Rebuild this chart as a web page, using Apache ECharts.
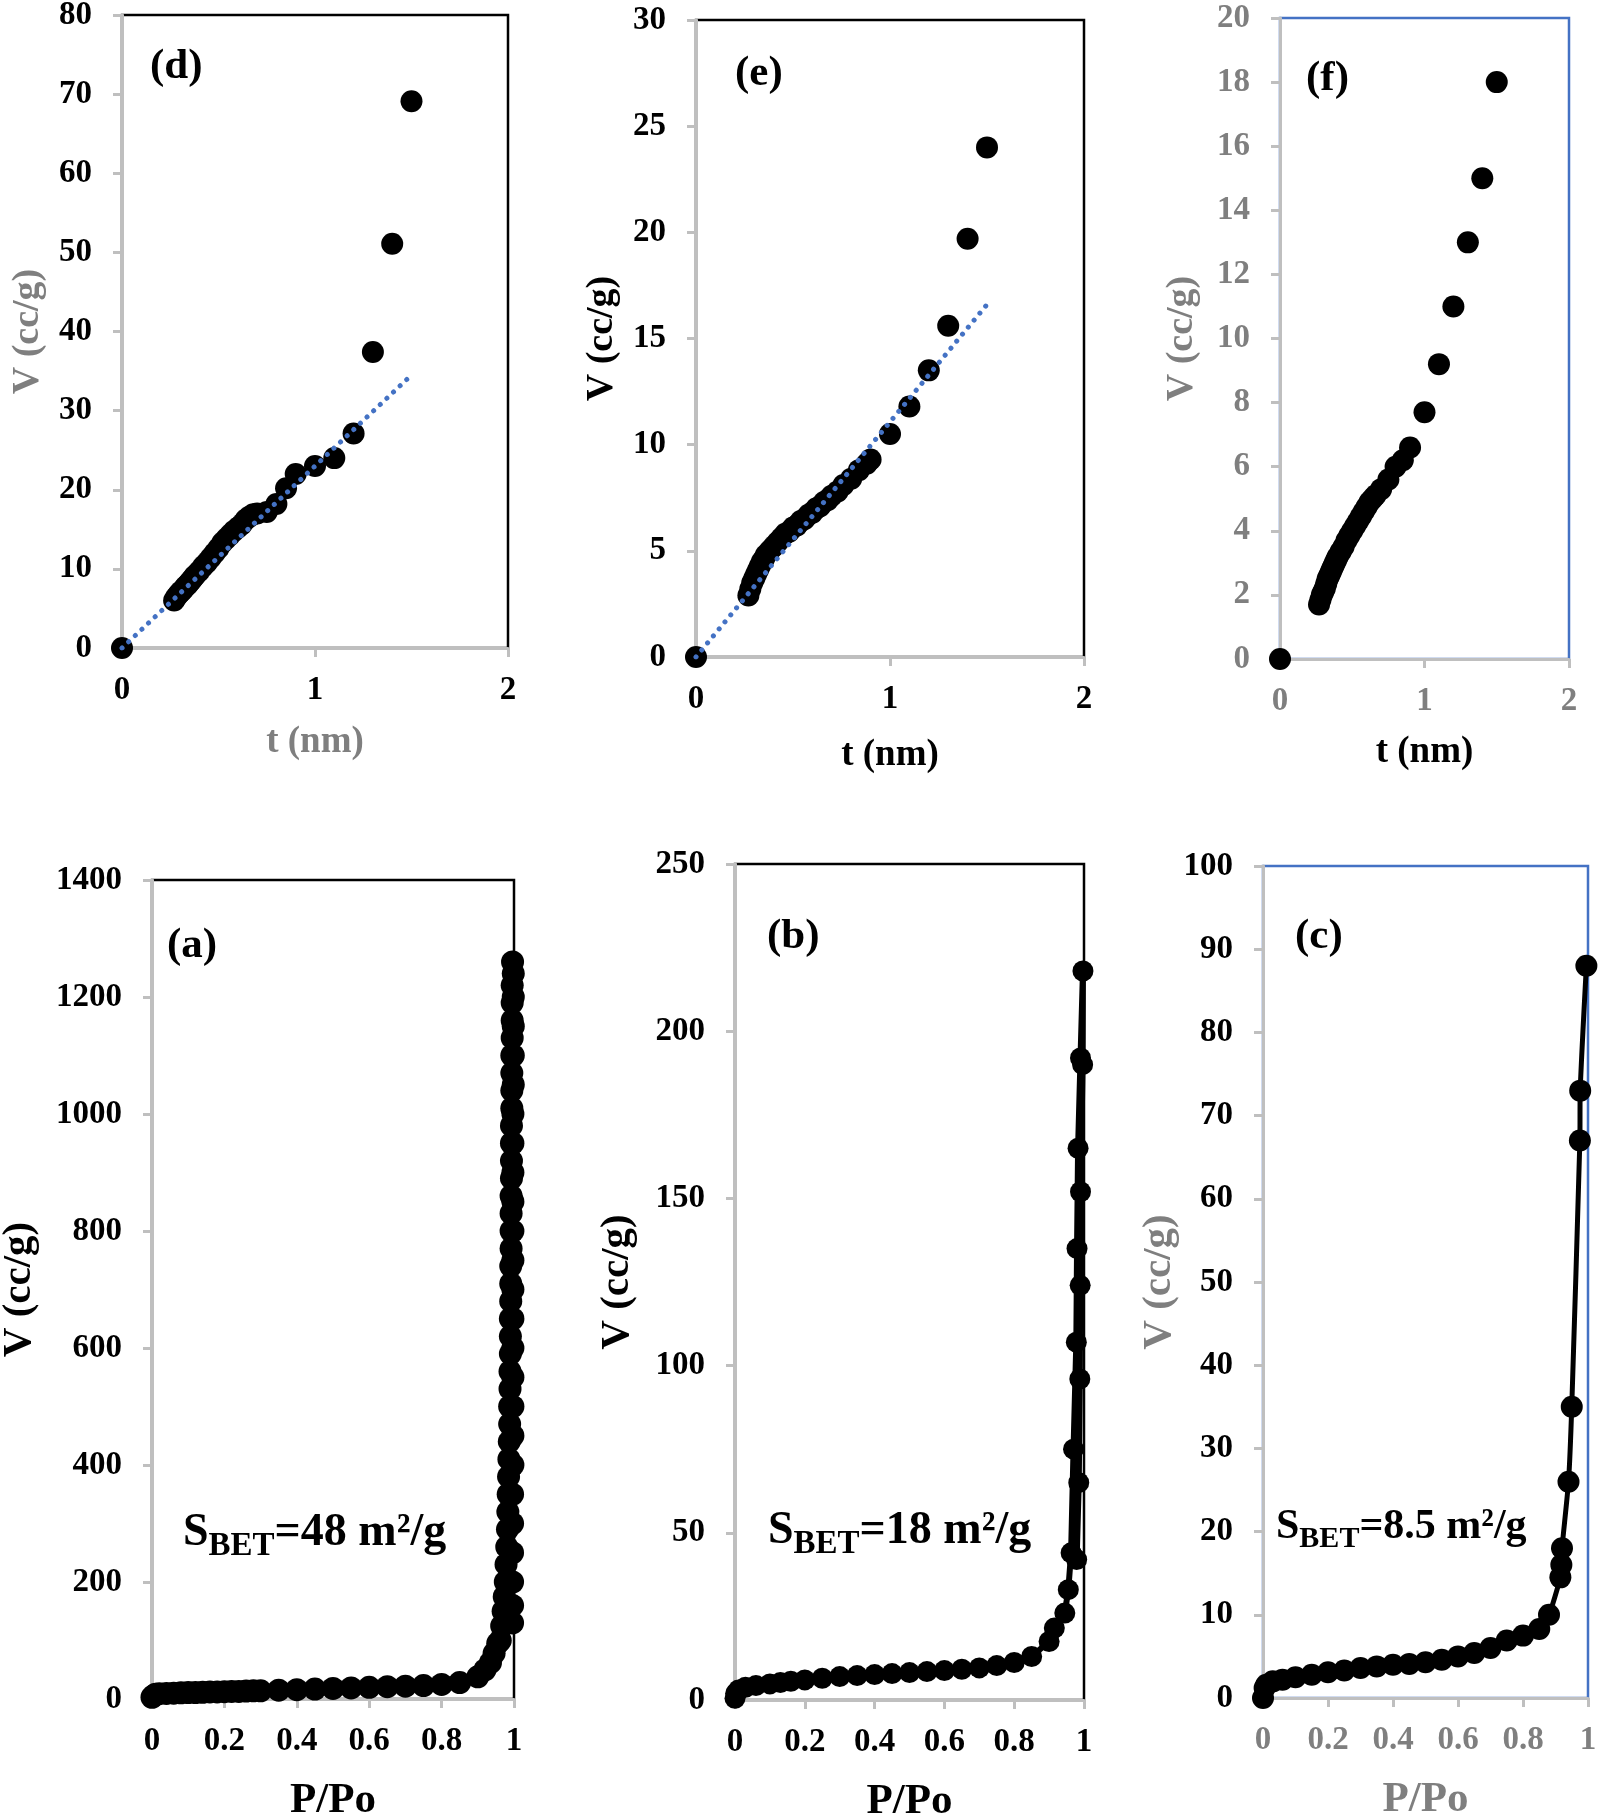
<!DOCTYPE html>
<html>
<head>
<meta charset="utf-8">
<script src="https://cdn.jsdelivr.net/npm/echarts@6/dist/echarts.min.js"></script>
<style>
html, body { margin: 0; padding: 0; background: #ffffff; }
#main { width: 1600px; height: 1820px; }
</style>
</head>
<body>
<div id="main"></div>
<script>
var myChart = echarts.init(document.getElementById('main'));

// (d) t-plot
var tD = [0, 0.27, 0.28, 0.29, 0.30, 0.31, 0.32, 0.33, 0.34, 0.35, 0.36, 0.37, 0.38, 0.40, 0.42, 0.44, 0.46, 0.48, 0.50,
    0.52, 0.54, 0.56, 0.58, 0.60, 0.62, 0.64, 0.66, 0.68, 0.70, 0.75, 0.80, 0.85, 0.90, 1.0, 1.1, 1.2, 1.3, 1.4, 1.5];
var vD = [0, 6.0, 6.4, 6.7, 7.0, 7.2, 7.5, 7.8, 8.0, 8.3, 8.6, 8.9, 9.2, 9.7, 10.3, 10.8, 11.4, 12.0, 12.6,
    13.3, 13.8, 14.3, 14.8, 15.2, 15.6, 16.2, 16.6, 16.9, 17.0, 17.2, 18.2, 20.2, 22.0, 23.0, 24.0, 27.1, 37.4, 51.1, 69.1];
var fitTD = [0, 1.5];
var fitVD = [0, 34.5];

// (e) t-plot
var tE = [0, 0.27, 0.28, 0.29, 0.30, 0.31, 0.32, 0.33, 0.34, 0.35, 0.36, 0.38, 0.40, 0.42, 0.44, 0.46, 0.48, 0.50,
    0.52, 0.54, 0.56, 0.58, 0.60, 0.62, 0.64, 0.66, 0.68, 0.70, 0.73, 0.76, 0.80, 0.84, 0.88, 0.90, 1.0, 1.1, 1.2, 1.3, 1.4, 1.5];
var vE = [0, 2.9, 3.2, 3.5, 3.7, 3.9, 4.1, 4.3, 4.5, 4.6, 4.8, 5.0, 5.2, 5.4, 5.6, 5.8, 5.9, 6.1,
    6.2, 6.4, 6.5, 6.7, 6.8, 7.0, 7.1, 7.3, 7.4, 7.6, 7.8, 8.1, 8.4, 8.8, 9.1, 9.3, 10.5, 11.8, 13.5, 15.6, 19.7, 24.0];
var fitTE = [0, 1.5];
var fitVE = [0, 16.6];

// (f) t-plot
var tF = [0, 0.27, 0.28, 0.29, 0.30, 0.31, 0.32, 0.33, 0.34, 0.35, 0.36, 0.37, 0.38, 0.39, 0.40, 0.42, 0.44, 0.46, 0.48, 0.50,
    0.52, 0.54, 0.56, 0.58, 0.60, 0.62, 0.64, 0.66, 0.70, 0.75, 0.80, 0.85, 0.90, 1.0, 1.1, 1.2, 1.3, 1.4, 1.5];
var vF = [0, 1.7, 1.85, 2.0, 2.1, 2.2, 2.35, 2.5, 2.6, 2.7, 2.8, 2.9, 3.0, 3.1, 3.2, 3.35, 3.5, 3.7, 3.85, 4.0,
    4.15, 4.3, 4.45, 4.6, 4.75, 4.9, 5.0, 5.1, 5.3, 5.6, 6.0, 6.2, 6.6, 7.7, 9.2, 11.0, 13.0, 15.0, 18.0];

// (a) isotherm
var pA = [0, 0.005, 0.01, 0.02, 0.04, 0.06, 0.08, 0.10, 0.12, 0.14, 0.16, 0.18, 0.20, 0.22, 0.24, 0.26, 0.28, 0.30,
    0.35, 0.40, 0.45, 0.50, 0.55, 0.60, 0.65, 0.70, 0.75, 0.80, 0.85, 0.90, 0.92, 0.935, 0.945, 0.955,
    0.962, 0.966, 0.970, 0.973, 0.976, 0.978, 0.980, 0.982, 0.983, 0.984, 0.985, 0.986, 0.987, 0.988, 0.988,
    0.989, 0.989, 0.990, 0.990, 0.990, 0.991, 0.991, 0.991, 0.992, 0.992, 0.992, 0.992, 0.993, 0.993, 0.993,
    0.993, 0.994, 0.994, 0.994, 0.994, 0.995, 0.995, 0.995, 0.995, 0.996,
    0.998, 0.998, 0.998, 0.998, 0.998, 0.997, 0.997, 0.997, 0.997, 0.997, 0.997, 0.997, 0.997, 0.997,
    0.997, 0.997, 0.997, 0.997, 0.996, 0.996, 0.996, 0.996, 0.996, 0.996];
var vA = [3, 6, 8, 9, 9.5, 10, 10.5, 11, 11, 11.5, 12, 12, 12.5, 13, 13, 13.5, 14, 14,
    15, 16, 17, 18, 19, 20, 21, 22, 23, 25, 28, 38, 50, 62, 78, 95,
    100, 125, 150, 175, 200, 230, 260, 290, 320, 350, 380, 410, 440, 470, 500,
    530, 560, 590, 620, 650, 680, 710, 740, 770, 800, 830, 860, 890, 920,
    950, 980, 1010, 1040, 1070, 1100, 1130, 1160, 1190, 1220, 1260,
    1240, 1200, 1150, 1100, 1050, 1000, 950, 900, 850, 800, 750, 700, 650, 600,
    550, 500, 450, 400, 350, 300, 250, 200, 160, 130];

// (b) isotherm
var pB = [0, 0.002, 0.01, 0.03, 0.06, 0.10, 0.13, 0.16, 0.20, 0.25, 0.30, 0.35, 0.40, 0.45, 0.50, 0.55, 0.60,
    0.65, 0.70, 0.75, 0.80, 0.85, 0.90, 0.915, 0.945, 0.955, 0.963, 0.970, 0.978, 0.980, 0.983, 0.990, 0.997,
    0.996, 0.990, 0.989, 0.988, 0.985, 0.979];
var vB = [0.5, 2, 3, 3.8, 4.3, 4.8, 5.2, 5.6, 6, 6.5, 7, 7.3, 7.6, 7.9, 8.2, 8.5, 8.8,
    9.2, 9.6, 10.3, 11.2, 13, 17.5, 21.5, 26, 33, 44, 75, 107, 135, 165, 192, 218,
    190, 152, 124, 96, 65, 42];

// (c) isotherm
var pC = [0, 0.005, 0.01, 0.03, 0.06, 0.10, 0.15, 0.20, 0.25, 0.30, 0.35, 0.40, 0.45, 0.50, 0.55, 0.60, 0.65,
    0.70, 0.75, 0.80, 0.85, 0.88, 0.915, 0.918, 0.92, 0.94, 0.95, 0.975, 0.976, 0.995];
var vC = [0, 1.2, 1.6, 2.0, 2.2, 2.5, 2.8, 3.1, 3.3, 3.6, 3.8, 4.0, 4.1, 4.3, 4.6, 5.0, 5.4,
    6.0, 6.9, 7.5, 8.3, 10.0, 14.5, 16.0, 18.0, 26.0, 35.0, 67.0, 73.0, 88.0];

// axis ranges [min, max, interval]
var tRange = [0, 2, 1];
var pRange = [0, 1, 0.2];
var yRangeD = [0, 80, 10];
var yRangeE = [0, 30, 5];
var yRangeF = [0, 20, 2];
var yRangeA = [0, 1400, 200];
var yRangeB = [0, 250, 50];
var yRangeC = [0, 100, 10];

var BLACK = '#000000';
var GRAY = '#7f7f7f';
var BLUE = '#4472c4';
var AXIS = '#bfbfbf';
var FONT = '"Liberation Serif", "Times New Roman", serif';

function pairs(xs, ys)
{
    var out = [];
    for (var i = 0; i < xs.length; i++)
    {
        out.push([xs[i], ys[i]]);
    }
    return out;
}

// panel layout: grid box, frame colour, label colours, axis names
var panels = [
    { box: [122, 15, 386, 633], frame: BLACK, x: tRange, y: yRangeD, xName: 't (nm)', xLab: BLACK, xNameC: GRAY, yLab: BLACK, yNameC: GRAY, xGap: 76, yGap: 75, lab: 33, xNameS: 37, yNameS: 38 },
    { box: [696, 20, 388, 637], frame: BLACK, x: tRange, y: yRangeE, xName: 't (nm)', xLab: BLACK, xNameC: BLACK, yLab: BLACK, yNameC: BLACK, xGap: 80, yGap: 75, lab: 33, xNameS: 37, yNameS: 38 },
    { box: [1280, 18, 289, 641], frame: BLUE, x: tRange, y: yRangeF, xName: 't (nm)', xLab: GRAY, xNameC: BLACK, yLab: GRAY, yNameC: GRAY, xGap: 75, yGap: 79, lab: 33, xNameS: 37, yNameS: 38 },
    { box: [152, 880, 362, 819], frame: BLACK, x: pRange, y: yRangeA, xName: 'P/Po', xLab: BLACK, xNameC: BLACK, yLab: BLACK, yNameC: BLACK, xGap: 80, yGap: 112, lab: 33, xNameS: 43, yNameS: 41 },
    { box: [735, 864, 349, 836], frame: BLACK, x: pRange, y: yRangeB, xName: 'P/Po', xLab: BLACK, xNameC: BLACK, yLab: BLACK, yNameC: BLACK, xGap: 80, yGap: 97, lab: 33, xNameS: 43, yNameS: 41 },
    { box: [1263, 866, 325, 832], frame: BLUE, x: pRange, y: yRangeC, xName: 'P/Po', xLab: GRAY, xNameC: GRAY, yLab: BLACK, yNameC: GRAY, xGap: 80, yGap: 80, lab: 33, xNameS: 43, yNameS: 41 }
];

var grids = [], xAxes = [], yAxes = [];
panels.forEach(function(p, i)
{
    grids.push({
        left: p.box[0], top: p.box[1], width: p.box[2], height: p.box[3],
        show: true, borderColor: p.frame, borderWidth: 2.5, backgroundColor: 'transparent',
        containLabel: false, outerBoundsMode: 'none'
    });
    var line = { show: true, onZero: false, lineStyle: { color: AXIS, width: 3 } };
    var tick = { show: true, inside: false, length: 9, lineStyle: { color: AXIS, width: 3 } };
    xAxes.push({
        type: 'value', gridIndex: i, min: p.x[0], max: p.x[1], interval: p.x[2],
        axisLine: line, axisTick: tick, splitLine: { show: false },
        axisLabel: { color: p.xLab, fontFamily: FONT, fontWeight: 'bold', fontSize: p.lab, margin: 26 },
        name: p.xName, nameLocation: 'middle', nameGap: p.xGap,
        nameTextStyle: { color: p.xNameC, fontFamily: FONT, fontWeight: 'bold', fontSize: p.xNameS }
    });
    yAxes.push({
        type: 'value', gridIndex: i, min: p.y[0], max: p.y[1], interval: p.y[2],
        axisLine: line, axisTick: tick, splitLine: { show: false },
        axisLabel: { color: p.yLab, fontFamily: FONT, fontWeight: 'bold', fontSize: p.lab, margin: 30,
            formatter: function(v) { return String(v); } },
        name: 'V (cc/g)', nameLocation: 'middle', nameGap: p.yGap,
        nameTextStyle: { color: p.yNameC, fontFamily: FONT, fontWeight: 'bold', fontSize: p.yNameS }
    });
});

function dots(i, data)
{
    return { type: 'scatter', xAxisIndex: i, yAxisIndex: i, data: data, symbol: 'circle', symbolSize: 22,
        itemStyle: { color: BLACK, opacity: 1 }, z: 3 };
}

function trend(i, data)
{
    return { type: 'line', xAxisIndex: i, yAxisIndex: i, data: data, symbol: 'none', z: 5,
        lineStyle: { color: BLUE, width: 5, type: [0.1, 9], cap: 'round' } };
}

function iso(i, data, size, width, smooth)
{
    return { type: 'line', xAxisIndex: i, yAxisIndex: i, data: data, symbol: 'circle', symbolSize: size,
        showSymbol: true, smooth: smooth, itemStyle: { color: BLACK, opacity: 1 },
        lineStyle: { color: BLACK, width: width }, z: 3 };
}

function label(text, x, y)
{
    return { type: 'text', x: x, y: y, z: 10,
        style: { text: text, fill: BLACK, font: 'bold 43px ' + FONT, align: 'left', verticalAlign: 'middle' } };
}

function sbet(rest, x, y, big, small)
{
    return { type: 'text', x: x, y: y, z: 10,
        style: {
            text: '{m|S}{s|BET}{m|' + rest + '}', align: 'left', verticalAlign: 'middle',
            rich: {
                m: { fill: BLACK, fontFamily: FONT, fontWeight: 'bold', fontSize: big, lineHeight: big, verticalAlign: 'top' },
                s: { fill: BLACK, fontFamily: FONT, fontWeight: 'bold', fontSize: small, lineHeight: small, verticalAlign: 'top', padding: [Math.round(big * 0.44), 0, 0, 0] }
            }
        } };
}

option =
{
    animation: false,
    backgroundColor: '#ffffff',
    grid: grids,
    xAxis: xAxes,
    yAxis: yAxes,
    series: [
        dots(0, pairs(tD, vD)), trend(0, pairs(fitTD, fitVD)),
        dots(1, pairs(tE, vE)), trend(1, pairs(fitTE, fitVE)),
        dots(2, pairs(tF, vF)),
        iso(3, pairs(pA, vA), 23, 4, false),
        iso(4, pairs(pB, vB), 21, 6, false),
        iso(5, pairs(pC, vC), 22, 5, 0.2)
    ],
    graphic: [
        label('(d)', 150, 67), label('(e)', 735, 74), label('(f)', 1306, 79),
        label('(a)', 167, 946), label('(b)', 767, 937), label('(c)', 1295, 937),
        sbet('=48 m²/g', 183, 1533, 46, 33),
        sbet('=18 m²/g', 768, 1531, 46, 33),
        sbet('=8.5 m²/g', 1276, 1527, 42, 30)
    ]
};

myChart.setOption(option);
</script>
</body>
</html>
